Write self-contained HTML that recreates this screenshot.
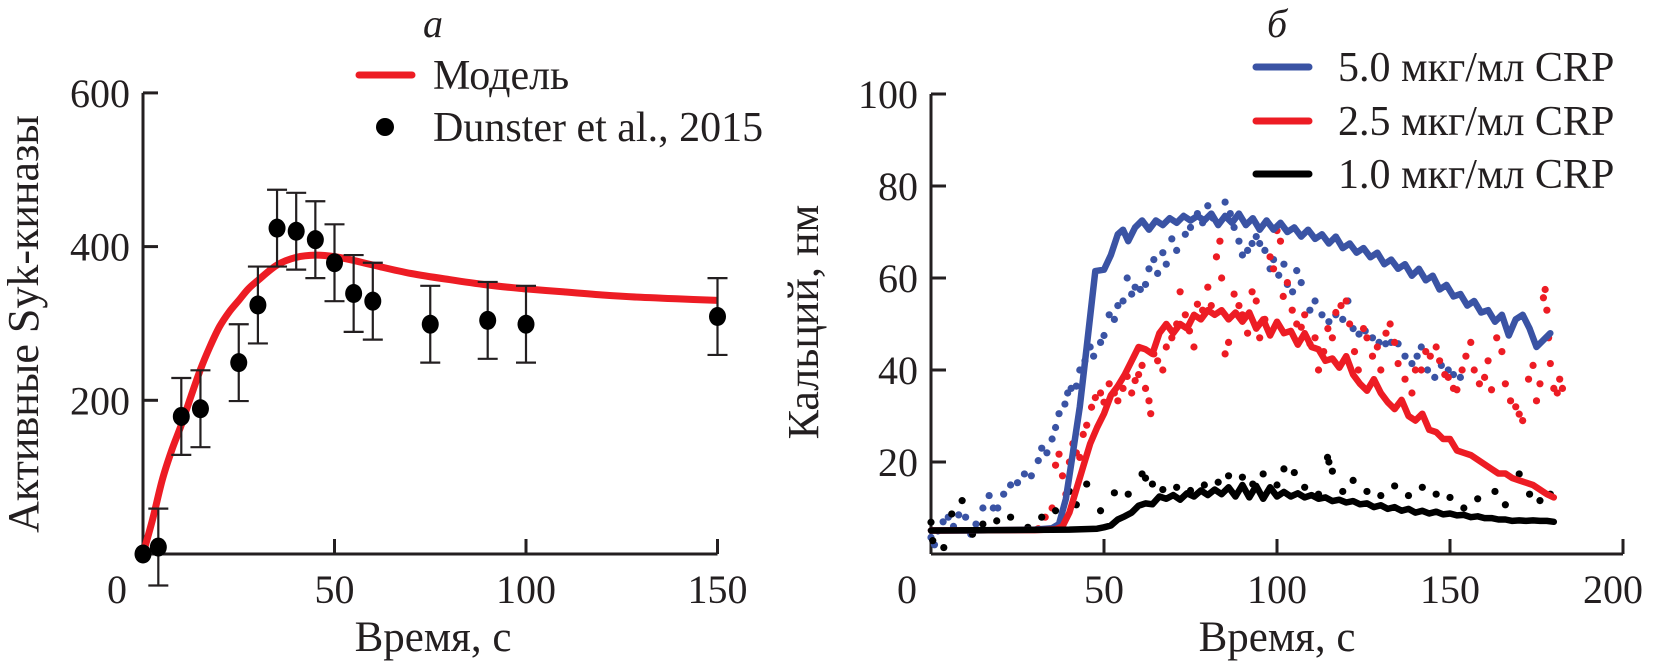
<!DOCTYPE html>
<html><head><meta charset="utf-8">
<style>
html,body{margin:0;padding:0;background:#fff;}
svg{display:block;font-family:"Liberation Serif","DejaVu Serif",serif;}
</style></head>
<body>
<svg id="fig" width="1655" height="664" viewBox="0 0 1655 664" xmlns="http://www.w3.org/2000/svg">
  <text x="433" y="37" font-size="40" font-style="italic" text-anchor="middle" fill="#231f20">а</text>
  <text x="1277" y="37" font-size="40" font-style="italic" text-anchor="middle" fill="#231f20">б</text>
  <g id="left"></g>
  <g id="right"></g>
  <text x="433" y="651" font-size="43" text-anchor="middle" fill="#231f20">Время, с</text>
  <text x="1277" y="651" font-size="43" text-anchor="middle" fill="#231f20">Время, с</text>
  <text transform="translate(38,324) rotate(-90)" font-size="44" text-anchor="middle" fill="#231f20">Активные Syk-киназы</text>
  <text transform="translate(818,322) rotate(-90)" font-size="44" text-anchor="middle" fill="#231f20">Кальций, нм</text>
  <g>
    <line x1="359" y1="75" x2="412" y2="75" stroke="#ed1c24" stroke-width="7" stroke-linecap="round"/>
    <text x="433" y="89" font-size="42" fill="#231f20">Модель</text>
    <circle cx="385" cy="127" r="9" fill="#000"/>
    <text x="433" y="141" font-size="42" fill="#231f20">Dunster et al., 2015</text>
  </g>
  <g>
    <line x1="1256" y1="67" x2="1309" y2="67" stroke="#3a53a4" stroke-width="7" stroke-linecap="round"/>
    <text x="1338" y="81" font-size="42" fill="#231f20">5.0 мкг/мл CRP</text>
    <line x1="1256" y1="121" x2="1309" y2="121" stroke="#ed1c24" stroke-width="7" stroke-linecap="round"/>
    <text x="1338" y="135" font-size="42" fill="#231f20">2.5 мкг/мл CRP</text>
    <line x1="1256" y1="174" x2="1309" y2="174" stroke="#000" stroke-width="7" stroke-linecap="round"/>
    <text x="1338" y="188" font-size="42" fill="#231f20">1.0 мкг/мл CRP</text>
  </g>
</svg>
<script>
// ---- Left chart data ----
const sykTimes = [0,4,10,15,25,30,35,40,45,50,55,60,75,90,100,150];
const sykValues = [0,9,179,189,249,324,424,420,409,379,339,329,299,304,299,309];
const sykErrors = [0,50,50,50,50,50,50,50,50,50,50,50,50,50,50,50];
const modelTimes = [0,2.5,5,7.5,10,12.5,15,17.5,20,22.5,25,27.5,30,35,40,45,50,55,60,70,80,90,100,110,120,130,140,150];
const modelValues = [0,45,96,135,168,205,240,270,296,315,330,345,356,376,386,389,387,382,376,365,357,350,345,341,337,334,332,330];
const leftYTicks = [200,400,600];
const leftXTicks = [0,50,100,150];
// ---- Right chart data ----
const blueT = [0,10,20,30,35,37,39,41,43,45,46.5,47.5,50,52,54,55.5,57,59,61,63,65,67,69,71,73,75,77,79,81,83,85,87,89,91,93,95,97,99,101,103,105,107,109,111,113,115,117,119,121,123,125,127,129,131,133,135,137,139,141,143,145,147,149,151,153,155,157,159,161,163,165,167,169,171,173,175,177,179];
const blueV = [5.1,5.1,5.2,5.3,5.6,6.5,12,22,32,45,55,61.5,61.8,65,69.5,70.5,68,71,72.5,70.5,72.5,71.5,73,72,73.5,72.5,73.5,72.5,74,71.5,73.5,72,74,71.5,73,70.5,72.5,70.5,72,70,71,69,70.5,68.5,69.5,67.5,69,66.5,67.5,65.5,66.5,64.5,65.5,63,64,62,63,60.5,62,59.5,60.5,57.5,58.5,56,56.5,54,55,52.5,53,50.5,52,47.5,51,52,49,45,46.5,48];
const redT = [0,30,36,38,40,42,44,46,48,50,52,54,56,58,60,62,64,66,68,70,72,74,76,78,80,82,84,86,88,90,92,94,96,98,100,102,104,106,108,110,112,114,116,118,120,122,124,126,128,130,132,134,136,138,140,142,144,146,148,150,152,154,156,158,160,162,164,166,168,170,172,174,176,178,180];
const redV = [5.1,5.2,5.4,6,9,14,19,24,27.5,30.5,34.5,36.5,39,42,45,44.5,43.5,48,50,48,50,49,52,51,53,52,53,51,52.5,50.5,52.5,49,51,47.5,50.5,48,48.5,45.5,48,45,44.5,42,42.5,40.5,43,39,37,35.5,38,35,33,31.5,33.5,30,29,30.5,27,26.5,25,25,22.5,22,21.5,20.5,19.5,18.5,17.5,17.5,16.5,16,15.5,15,14,13,12.3];
const blackT = [0,40,48,50,52,54,56,58,60,62,64,66,68,70,72,74,76,78,80,82,84,86,88,90,92,94,96,98,100,102,104,106,108,110,112,114,116,118,120,122,124,126,128,130,132,134,136,138,140,142,144,146,148,150,152,154,156,158,160,162,164,166,168,170,172,174,176,178,180];
const blackV = [5.1,5.3,5.5,5.8,6.2,7.5,8.2,9,10.5,11,10.8,12.5,12,12.8,11.8,13.2,12.5,13.8,12.8,14,13,14.5,12.5,15,12.3,14.8,12,14.5,12.5,13.5,12.5,13.2,12.3,12.8,12,12.3,11.5,11.8,11.2,11.5,10.8,11,10.2,10.6,9.8,10.2,9.4,9.8,9,9.4,8.8,9.2,8.6,8.8,8.4,8.5,8,8.2,7.8,7.8,7.5,7.5,7.2,7.3,7.2,7.3,7.2,7.2,7];
const blueDotT = [0,1,2,3.5,5,6.5,8,10,11.5,13,15,16.8,18,19.3,21,23,25,27,29,31,32,33.5,35,36,37,38.7,39.5,40.5,42,43,44.5,46,47,49,50,51.5,53,54,55.5,56.7,58,59,60.5,62,63,64.4,65.5,67,68,69.6,71,73.5,75,77,78.5,80,81.5,83,85,86.5,87.6,89,90,91.5,92.8,94,95,96.5,98,99,100.5,102,103,104.5,105.7,107,109.5,111,113,115,117,119,120.5,122,123.7,125.5,127.6,129.5,131.4,133,135,137,139,140.5,141.7,143.5,145.6,147.5,149.5,151,153];
const blueDotV = [3.6,2,5,7,8,6,8.5,8,4.3,6.5,10,12.7,10,10,13,15,15.5,17.4,17,20.3,23,22,25,27.5,30.5,32.6,35,36,36.5,40,42,45,43,46,47.5,52,51,54,55,60,56.5,58,57.5,58.6,62,64,61,65.5,63,68.5,66,69.5,71,74,72,75.7,73,72,76.5,74,71,68,65,66,67.5,69,67.5,66,62,64,60.6,63,58.6,57,61.6,59,53,55,52,50.5,52,51,55,49,47.8,48.5,47,46,45.7,46,45.7,43,41.4,43,45,40,38.4,41,40,39,38.4];
const redDotT = [31,33,35,36,37,38,39,40,41,42,43,44,45,46.4,47.5,49,50,51.5,53,54,55.5,56.7,58,59,60,61,62,63,63.5,64.4,65.5,67,68,69.6,71,72,73.5,74.7,76,77,78.5,80,81,82.5,83.5,84,85,86,87.6,89,90,91.5,92.8,94,95,96.5,98,99,100,101,101.8,103,104.4,105.7,107,108,109.5,111,112,113.5,114.7,116,117,118.5,120,121,122.4,123.5,125,126,127.6,129,130,131.5,132.7,134,135,137,139,140,141.7,143,144.3,146,147,148.5,149.5,151,152,153.5,154.6,156,157,158.5,160,161,162,163.5,165,166,167.5,169,170,171,172.7,174,175,176,177,177.5,178,178.5,179,180,181,181.7,182.5];
const redDotV = [5.5,8,10,19.3,21.7,17,13,20,24,22,21,26,28,31.9,34,35,33,37,35,33.3,36,38.6,35,37.7,39,41,36,33.3,30.5,43.5,42,40,45,47,50,57,52,48.5,45,54.3,53,58,54,64.6,68,60,43.5,46,56.5,54,52,48,57,55,47,51,64.6,62,70.3,68,56,59,53,50,49.3,52,45.7,47,40,44,49,47,52.5,54,55,50,44,40,49,47,43,45,40,48,50,46,41.4,38,35,40,40,44,43,45,42,39,38.4,36,35.7,40,43,46,40,37,38.4,42,35.7,47,44,37,33.3,32,30.4,29,38,41,33.3,37,55.7,57.5,53,47,41.4,36,35,38,36];
const blackDotT = [0,0.5,3.7,6,9,12,15,19,23,28,32,36,40,42,45,49,53,57,61,62,64,67,71,75,79,83,86,90,93,96,100,102,105,108,112,114.6,115,116,119,122,126,130,134,138,142,146,150,154,158,163,166,170,173,176,179];
const blackDotV = [6.9,2.9,1.4,8.7,11.6,4.3,6.5,7.2,8,5.8,8,9.4,13.6,10.7,15.2,9.4,13.3,13,17.4,16.5,15.2,14,14.5,13.8,15,15.6,17,16.7,15.2,17.4,15,18.5,17.7,14.5,13,21,20,18,13.6,16,13.6,12.7,14.8,12.7,14.5,13,12.3,10,12,13.6,10.7,17.4,13,11.6,13];
const rightYTicks = [20,40,60,80,100];
const rightXTicks = [0,50,100,150,200];

const NS = 'http://www.w3.org/2000/svg';
function mk(tag, attrs, parent){const e=document.createElementNS(NS,tag);for(const k in attrs)e.setAttribute(k,attrs[k]);parent.appendChild(e);return e;}

function lx(t){return 143 + t*3.83;}
function ly(v){return 554 - v*0.7685;}
function rx(t){return 931 + t*3.46;}
function ry(v){return 554 - v*4.6;}

function smoothPath(xs, ys){
  let d='M'+xs[0].toFixed(1)+','+ys[0].toFixed(1);
  for(let i=0;i<xs.length-1;i++){
    const x0=xs[Math.max(i-1,0)],y0=ys[Math.max(i-1,0)],x1=xs[i],y1=ys[i],x2=xs[i+1],y2=ys[i+1],x3=xs[Math.min(i+2,xs.length-1)],y3=ys[Math.min(i+2,xs.length-1)];
    const c1x=x1+(x2-x0)/6,c1y=y1+(y2-y0)/6,c2x=x2-(x3-x1)/6,c2y=y2-(y3-y1)/6;
    d+=' C'+c1x.toFixed(1)+','+c1y.toFixed(1)+' '+c2x.toFixed(1)+','+c2y.toFixed(1)+' '+x2.toFixed(1)+','+y2.toFixed(1);
  }
  return d;
}
const AX='#231f20';

// ---------- LEFT ----------
const L=document.getElementById('left');
let e;
e=mk('line',{x1:lx(0),y1:ly(0),x2:lx(150),y2:ly(0),stroke:AX,'stroke-width':3},L);


e=mk('line',{x1:lx(0),y1:ly(0),x2:lx(0),y2:ly(600),stroke:AX,'stroke-width':3},L);


leftYTicks.forEach(v=>{
  e=mk('line',{x1:lx(0),y1:ly(v),x2:lx(0)+15,y2:ly(v),stroke:AX,'stroke-width':3},L);
  
  
  e=mk('text',{x:lx(0)-13,y:ly(v)+14,'font-size':40,'text-anchor':'end',fill:AX},L);
  e.textContent=v;
  
  
});
leftXTicks.forEach(t=>{
  if(t>0){
    e=mk('line',{x1:lx(t),y1:ly(0),x2:lx(t),y2:ly(0)-15,stroke:AX,'stroke-width':3},L);
    
    
  }
  e=mk('text',{x:(t===0?lx(0)-26:lx(t)),y:603,'font-size':40,'text-anchor':'middle',fill:AX},L);
  e.textContent=t;
  
  
});
e=mk('path',{d:smoothPath(modelTimes.map(lx),modelValues.map(ly)),fill:'none',stroke:'#ed1c24','stroke-width':7,'stroke-linejoin':'round'},L);


sykTimes.forEach((t,i)=>{
  const x=lx(t),v=sykValues[i],er=sykErrors[i];
  if(er>0){
    e=mk('path',{d:'M'+x+','+ly(v-er)+' V'+ly(v+er)+' M'+(x-10)+','+ly(v-er)+' H'+(x+10)+' M'+(x-10)+','+ly(v+er)+' H'+(x+10),stroke:AX,'stroke-width':2.2,fill:'none'},L);
    
    
  }
  e=mk('ellipse',{cx:x,cy:ly(v),rx:8.5,ry:9.5,fill:'#000'},L);
  
  
});

// ---------- RIGHT ----------
const R=document.getElementById('right');
e=mk('line',{x1:rx(0),y1:ry(0),x2:rx(200),y2:ry(0),stroke:AX,'stroke-width':3},R);


e=mk('line',{x1:rx(0),y1:ry(0),x2:rx(0),y2:ry(100),stroke:AX,'stroke-width':3},R);


rightYTicks.forEach(v=>{
  e=mk('line',{x1:rx(0),y1:ry(v),x2:rx(0)+15,y2:ry(v),stroke:AX,'stroke-width':3},R);
  
  
  e=mk('text',{x:rx(0)-13,y:ry(v)+14,'font-size':40,'text-anchor':'end',fill:AX},R);
  e.textContent=v;
  
  
});
rightXTicks.forEach(t=>{
  if(t>0){
    e=mk('line',{x1:rx(t),y1:ry(0),x2:rx(t),y2:ry(0)-15,stroke:AX,'stroke-width':3},R);
    
    
  }
  e=mk('text',{x:(t===0?rx(0)-24:(t===200?rx(t)-10:rx(t))),y:603,'font-size':40,'text-anchor':'middle',fill:AX},R);
  e.textContent=t;
  
  
});
function dots(ts,vs,color,name){
  const g=mk('g',{},R);
  
  
  ts.forEach((t,i)=>{
    const c=mk('circle',{cx:rx(t),cy:ry(vs[i]),r:3.6,fill:color},g);
    
    
  });
}
function line(ts,vs,color,name){
  const p=mk('polyline',{points:ts.map((t,i)=>rx(t).toFixed(1)+','+ry(vs[i]).toFixed(1)).join(' '),fill:'none',stroke:color,'stroke-width':6.5,'stroke-linejoin':'round','stroke-linecap':'round'},R);
  
  
}
dots(blueDotT,blueDotV,'#3a53a4','blue-experiment-dots');
dots(redDotT,redDotV,'#ed1c24','red-experiment-dots');
dots(blackDotT,blackDotV,'#000','black-experiment-dots');
line(blueT,blueV,'#3a53a4','blue-model-line');
line(redT,redV,'#ed1c24','red-model-line');
line(blackT,blackV,'#000','black-model-line');
</script>
</body></html>
